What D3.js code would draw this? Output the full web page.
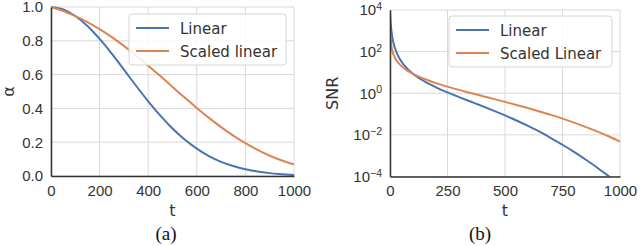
<!DOCTYPE html>
<html>
<head>
<meta charset="utf-8">
<script src="https://cdn.jsdelivr.net/npm/d3@7"></script>
<style>
  body { margin: 0; background: #fff; }
  svg { display: block; font-family: "DejaVu Sans", sans-serif; }
  .grid line { stroke: #d9d9d9; stroke-width: 1; }
  .tick text { fill: #333; font-size: 15px; }
</style>
</head>
<body>
<svg id="chart" width="640" height="246"></svg>
<script>
// panel (a): alpha vs t
const tA = [0, 50, 100, 150, 200, 250, 300, 350, 400, 450, 500, 550, 600, 650, 700, 750, 800, 850, 900, 950, 1000];
const alphaLinear = [1.0, 0.985, 0.947, 0.887, 0.811, 0.724, 0.630, 0.534, 0.442, 0.357, 0.281, 0.216, 0.162, 0.118, 0.084, 0.059, 0.040, 0.026, 0.017, 0.011, 0.006];
const alphaScaled = [1.0, 0.976, 0.946, 0.911, 0.869, 0.822, 0.770, 0.713, 0.653, 0.591, 0.527, 0.464, 0.403, 0.344, 0.289, 0.239, 0.194, 0.154, 0.120, 0.092, 0.069];

// panel (b): SNR vs t (log)
const tB = [0, 2, 5, 10, 20, 30, 50, 75, 100, 150, 200, 250, 300, 350, 400, 450, 500, 550, 600, 650, 700, 750, 800, 850, 900, 950, 1000];
const snrLinear = [9999, 3333, 1333, 500, 167, 83, 32.9, 15.3, 8.64, 3.71, 1.93, 1.10, 0.656, 0.399, 0.243, 0.146, 0.0859, 0.049, 0.0269, 0.0142, 0.0070, 0.00336, 0.00152, 0.000657, 0.000272, 0.000106, 0.0000403];
const snrScaled = [1176, 588, 231, 114, 55.1, 35.6, 20.1, 12.3, 8.55, 4.85, 3.08, 2.08, 1.452, 1.033, 0.743, 0.536, 0.385, 0.275, 0.194, 0.134, 0.0912, 0.0604, 0.039, 0.0244, 0.0147, 0.00856, 0.00478];

const xTicksA = [0, 200, 400, 600, 800, 1000];
const yTicksA = [0.0, 0.2, 0.4, 0.6, 0.8, 1.0];
const xTicksB = [0, 250, 500, 750, 1000];
const yTicksB = [1e-4, 1e-2, 1, 1e2, 1e4];

const colors = ["#4C72B0", "#DD8452"];
const svg = d3.select("#chart");

function panel(cfg) {
  const g = svg.append("g");
  const x = d3.scaleLinear().domain([0, 1000]).range([cfg.left, cfg.right]);
  const y = cfg.y;

  // grid
  g.append("g").attr("class", "grid")
    .selectAll("line.v").data(cfg.xTicks).join("line")
    .attr("x1", d => x(d)).attr("x2", d => x(d))
    .attr("y1", cfg.top).attr("y2", cfg.bottom);
  g.append("g").attr("class", "grid")
    .selectAll("line.h").data(cfg.yTicks).join("line")
    .attr("x1", cfg.left).attr("x2", cfg.right)
    .attr("y1", d => y(d)).attr("y2", d => y(d));

  const clipId = "clip" + cfg.name;
  svg.append("clipPath").attr("id", clipId).append("rect")
    .attr("x", cfg.left).attr("y", cfg.top - 2)
    .attr("width", cfg.right - cfg.left).attr("height", cfg.bottom - cfg.top + 2);

  const line = d3.line().x(d => x(d[0])).y(d => y(d[1])).curve(d3.curveMonotoneX);
  cfg.series.forEach((s, i) => {
    g.append("path")
      .attr("clip-path", `url(#${clipId})`)
      .attr("d", line(cfg.t.map((t, j) => [t, s[j]])))
      .attr("fill", "none")
      .attr("stroke", colors[i])
      .attr("stroke-width", 2);
  });

  // axes
  const xAxis = d3.axisBottom(x).tickValues(cfg.xTicks).tickSize(0).tickPadding(9).tickFormat(d3.format("d"));
  const xg = g.append("g").attr("transform", `translate(0,${cfg.bottom})`).call(xAxis);
  xg.select(".domain").attr("stroke", "#333").attr("stroke-width", 1.5);

  const yAxis = d3.axisLeft(y).tickValues(cfg.yTicks).tickSize(0).tickPadding(8);
  if (cfg.yFormat) yAxis.tickFormat(cfg.yFormat);
  const yg = g.append("g").attr("transform", `translate(${cfg.left},0)`).call(yAxis);
  yg.select(".domain").attr("stroke", "#333").attr("stroke-width", 1.5);
  if (cfg.logLabels) {
    yg.selectAll(".tick text").text(null).each(function(d) {
      const t = d3.select(this);
      t.append("tspan").text("10");
      t.append("tspan").attr("dy", "-0.5em").style("font-size", "10.5px").text(d3.format("d")(Math.round(Math.log10(d))).replace("-", "\u2212"));
    });
  }

  // axis titles
  g.append("text").attr("x", (cfg.left + cfg.right) / 2).attr("y", 216)
    .attr("text-anchor", "middle").attr("fill", "#333").style("font-size", "16px").text("t");
  g.append("text").attr("transform", `translate(${cfg.ylabX},${(cfg.top + cfg.bottom) / 2}) rotate(-90)`)
    .attr("text-anchor", "middle").attr("fill", "#333").style("font-size", "16px").text(cfg.ylab);
  g.append("text").attr("x", cfg.capX).attr("y", 240)
    .attr("text-anchor", "middle").attr("fill", "#111")
    .style("font-family", "'Liberation Serif', 'Times New Roman', serif").style("font-size", "19px")
    .text(cfg.caption);

  // legend
  const lg = g.append("g").attr("transform", `translate(${cfg.leg[0]},${cfg.leg[1]})`);
  lg.append("rect").attr("width", cfg.leg[2]).attr("height", 51).attr("rx", 3)
    .attr("fill", "rgba(255,255,255,0.85)").attr("stroke", "#d4d4d4");
  cfg.names.forEach((n, i) => {
    const yy = 14 + i * 23;
    lg.append("line").attr("x1", 7).attr("x2", 40).attr("y1", yy).attr("y2", yy)
      .attr("stroke", colors[i]).attr("stroke-width", 2);
    lg.append("text").attr("x", 51).attr("y", yy + 5.5).attr("fill", "#333")
      .style("font-size", "15px").text(n);
  });
}

panel({
  name: "a", left: 51, right: 294, top: 7, bottom: 176,
  y: d3.scaleLinear().domain([0, 1]).range([176, 7]),
  xTicks: xTicksA, yTicks: yTicksA, yFormat: d3.format(".1f"),
  t: tA, series: [alphaLinear, alphaScaled],
  ylab: "\u03b1", ylabX: 14, caption: "(a)", capX: 166,
  names: ["Linear", "Scaled linear"], leg: [129, 14, 157]
});

panel({
  name: "b", left: 390, right: 620, top: 10, bottom: 176.5,
  y: d3.scaleLog().domain([1e-4, 1e4]).range([176.5, 10]),
  xTicks: xTicksB, yTicks: yTicksB, logLabels: true,
  t: tB, series: [snrLinear, snrScaled],
  ylab: "SNR", ylabX: 338, caption: "(b)", capX: 480,
  names: ["Linear", "Scaled Linear"], leg: [449, 16, 163]
});
</script>
</body>
</html>
